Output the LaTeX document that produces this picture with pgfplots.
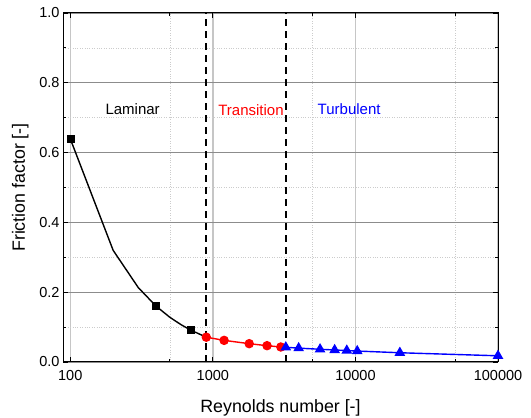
\documentclass[border=0pt]{standalone}
\usepackage{pgfplots}
\pgfplotsset{compat=1.18}
\usepackage{fontspec}
\setmainfont{Liberation Sans}
\usetikzlibrary{plotmarks}
\begin{document}
\begin{tikzpicture}[x=1pt,y=1pt]
\path[use as bounding box] (0,0) rectangle (531,418);
\begin{axis}[
  at={(63pt,56pt)}, anchor=south west,
  width=435pt, height=349pt, scale only axis,
  xmode=log, xmin=89, xmax=100000,
  ymin=0, ymax=1.0,
  xtick={100,1000,10000,100000},
  xticklabels={100,1000,10000,100000},
  minor xtick={500,5000,50000},
  ytick={0,0.2,0.4,0.6,0.8,1.0},
  minor ytick={0.1,0.3,0.5,0.7,0.9},
  yticklabel style={/pgf/number format/.cd,fixed,fixed zerofill,precision=1},
  /pgf/number format/assume math mode=true,
  tick align=inside,
  major tick length=5pt, minor tick length=3pt,
  tick style={black, line width=0.8pt},
  axis line style={black, line width=1pt},
  grid=both,
  major x grid style={gray!45, line width=1.4pt},
  major y grid style={gray!90, line width=0.8pt},
  minor grid style={gray!40, dotted, line width=0.7pt},
  ticklabel style={font=\fontsize{14.5}{17}\selectfont},
  xticklabel style={yshift=-5pt},
  label style={font=\fontsize{17.8}{21}\selectfont},
  xlabel={Reynolds number [-]},
  ylabel={Friction factor [-]},
  xlabel style={yshift=-12pt},
  ylabel style={yshift=4pt},
  clip=false,
]
% transition boundaries
\addplot[black, line width=1.6pt, dash pattern=on 7pt off 5pt] coordinates {(900,0) (900,1)};
\addplot[black, line width=1.6pt, dash pattern=on 7pt off 5pt] coordinates {(3250,0) (3250,1)};
% laminar line
\addplot[black, line width=1.4pt] coordinates {
 (100,0.64) (200,0.32) (300,0.2133) (400,0.16) (500,0.128) (600,0.1067) (700,0.0914) (900,0.0711)};
\addplot[only marks, mark=square*, mark size=3.5pt, black] coordinates {
 (100,0.64) (400,0.16) (700,0.0914)};
% transition
\addplot[red, line width=1.4pt, mark=*, mark size=4pt, mark options={solid, fill=red}, mark indices={1,2,3,4,5}] coordinates {
 (900,0.0711) (1200,0.062) (1800,0.0525) (2400,0.0468) (3000,0.043) (3250,0.0422)};
% turbulent
\addplot[blue, line width=1.4pt, mark=triangle*, mark size=4.8pt, mark options={solid, fill=blue}] coordinates {
 (3250,0.0422) (4000,0.0397) (5650,0.0365) (7150,0.0344) (8700,0.0329) (10300,0.0314) (20500,0.0265) (100000,0.0178)};
\node[anchor=west, font=\fontsize{15}{18}\selectfont, black] at (axis cs:167,0.725) {Laminar};
\node[anchor=west, font=\fontsize{15}{18}\selectfont, red] at (axis cs:1033,0.722) {Transition};
\node[anchor=west, font=\fontsize{15}{18}\selectfont, blue] at (axis cs:5140,0.725) {Turbulent};
\end{axis}
\end{tikzpicture}
\end{document}
